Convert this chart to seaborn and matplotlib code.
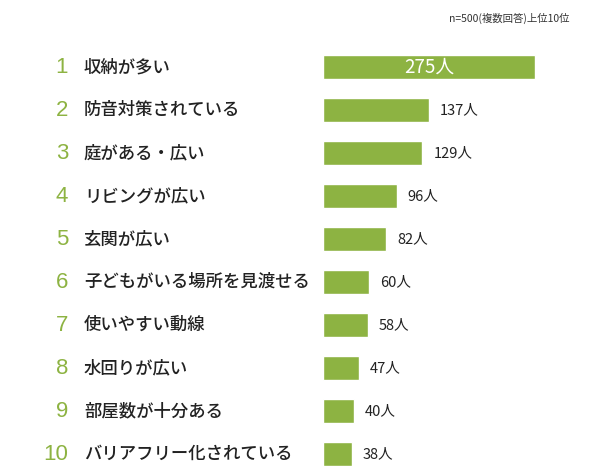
import matplotlib
matplotlib.use("Agg")
import matplotlib.pyplot as plt
import matplotlib.transforms as mtransforms
import seaborn as sns
import pandas as pd

ranks = ["1","2","3","4","5","6","7","8","9","10"]
labels = ["収納が多い","防音対策されている","庭がある・広い","リビングが広い","玄関が広い",
          "子どもがいる場所を見渡せる","使いやすい動線","水回りが広い","部屋数が十分ある","バリアフリー化されている"]
values = [275,137,129,96,82,60,58,47,40,38]

sns.set_theme(style="white")
plt.rcParams['font.family'] = ['Noto Sans CJK JP', 'DejaVu Sans']

df = pd.DataFrame({"label": labels, "value": values})
fig = plt.figure(figsize=(6.14, 4.66), dpi=100)
top_px, h_px = 37, 451.5
ax = fig.add_axes([323/614, 1-(top_px+h_px)/466, (600-323)/614, h_px/466])
green = "#8db342"
sns.barplot(data=df, x="value", y="label", color=green, saturation=1, width=0.56, ax=ax, orient="h")
ax.set_xlim(0, (600-323)/0.771)
ax.set_ylim(9.8, -0.7)
ax.axis("off")

trans = mtransforms.blended_transform_factory(fig.transFigure, ax.transData)
for i, (r, l, v) in enumerate(zip(ranks, labels, values)):
    ax.text(68/614, i, r, transform=trans, ha="right", va="center", fontsize=16, color=green,
            family=['Liberation Sans', 'DejaVu Sans'])
    ax.text(84/614, i, l, transform=trans, ha="left", va="center", fontsize=12.5,
            color="#222222", fontweight="medium")
    if i == 0:
        ax.text(v/2, i, f"{v}人", ha="center", va="center", fontsize=13.5, color="white")
    else:
        ax.text(v + 14, i, f"{v}人", ha="left", va="center", fontsize=10.5, color="#222222")

fig.text(570/614, 1-18/466, "n=500(複数回答)上位10位", ha="right", va="center", fontsize=7.5, color="#333333")
fig.savefig("out.png", dpi=100)
